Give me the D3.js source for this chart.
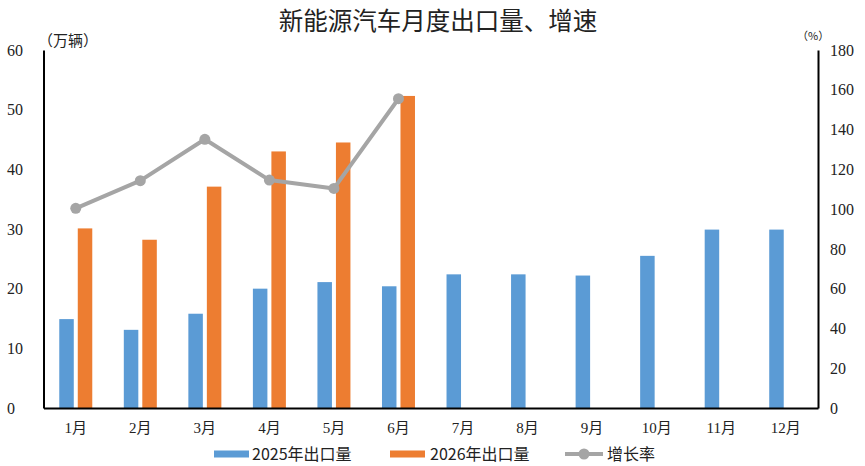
<!DOCTYPE html>
<html>
<head>
<meta charset="utf-8">
<script src="https://cdn.jsdelivr.net/npm/d3@7"></script>
<style>
  html, body { margin: 0; padding: 0; background: #fff; }
  svg { display: block; }
</style>
</head>
<body>
<svg id="chart" width="865" height="466"></svg>
<script>
// chart data
const months = ["1月", "2月", "3月", "4月", "5月", "6月", "7月", "8月", "9月", "10月", "11月", "12月"];
const export2025 = [14.9, 13.1, 15.8, 20.0, 21.1, 20.4, 22.4, 22.4, 22.2, 25.5, 29.9, 29.9];
const export2026 = [30.1, 28.2, 37.1, 43.0, 44.5, 52.3];
const growthRate = [100.4, 114.3, 135.1, 114.6, 110.4, 155.5];
const leftTicks = [0, 10, 20, 30, 40, 50, 60];
const rightTicks = [0, 20, 40, 60, 80, 100, 120, 140, 160, 180];
const seriesNames = ["2025年出口量", "2026年出口量", "增长率"];

const colors = { y2025: "#5B9BD5", y2026: "#ED7D31", rate: "#A5A5A5" };
const serif = "'Liberation Serif', 'Noto Sans CJK SC', serif";
const cjk = "'Noto Sans CJK SC', sans-serif";

const svg = d3.select("#chart");

const plot = { left: 43.5, right: 818, top: 50, bottom: 408 };

const x = d3.scaleBand()
  .domain(months)
  .range([plot.left, plot.right]);

const xSub = d3.scaleBand()
  .domain(["2025", "2026"])
  .range([x.bandwidth() / 2 - 16.5, x.bandwidth() / 2 + 16.5])
  .paddingInner(0.216);

const yLeft = d3.scaleLinear().domain([0, 60]).range([plot.bottom, plot.top]);
const yRight = d3.scaleLinear().domain([0, 180]).range([plot.bottom, plot.top]);

// Title
svg.append("text")
  .attr("x", 438)
  .attr("y", 30)
  .attr("text-anchor", "middle")
  .attr("font-family", cjk)
  .attr("font-size", 24.5)
  .attr("fill", "#222")
  .text("新能源汽车月度出口量、增速");

// Bars
svg.append("g").selectAll("rect")
  .data(export2025)
  .join("rect")
  .attr("x", (d, i) => x(months[i]) + xSub("2025"))
  .attr("y", d => yLeft(d))
  .attr("width", xSub.bandwidth())
  .attr("height", d => yLeft(0) - yLeft(d))
  .attr("fill", colors.y2025);

svg.append("g").selectAll("rect")
  .data(export2026)
  .join("rect")
  .attr("x", (d, i) => x(months[i]) + xSub("2026"))
  .attr("y", d => yLeft(d))
  .attr("width", xSub.bandwidth())
  .attr("height", d => yLeft(0) - yLeft(d))
  .attr("fill", colors.y2026);

// Growth rate line
const line = d3.line()
  .x((d, i) => x(months[i]) + x.bandwidth() / 2)
  .y(d => yRight(d));

svg.append("path")
  .datum(growthRate)
  .attr("fill", "none")
  .attr("stroke", colors.rate)
  .attr("stroke-width", 4)
  .attr("stroke-linejoin", "round")
  .attr("d", line);

svg.append("g").selectAll("circle")
  .data(growthRate)
  .join("circle")
  .attr("cx", (d, i) => x(months[i]) + x.bandwidth() / 2)
  .attr("cy", d => yRight(d))
  .attr("r", 5.5)
  .attr("fill", colors.rate);

// Axes
const leftAxis = svg.append("g")
  .attr("transform", `translate(${plot.left},0)`)
  .call(d3.axisLeft(yLeft).tickValues(leftTicks).tickSize(0).tickPadding(0));
leftAxis.select(".domain").attr("stroke", "#000").attr("stroke-width", 2);
leftAxis.selectAll("text")
  .attr("x", 7 - plot.left)
  .attr("text-anchor", "start")
  .attr("font-family", serif)
  .attr("font-size", 16)
  .attr("fill", "#222");

const rightAxis = svg.append("g")
  .attr("transform", `translate(${plot.right},0)`)
  .call(d3.axisRight(yRight).tickValues(rightTicks).tickSize(0).tickPadding(12));
rightAxis.select(".domain").attr("stroke", "#000").attr("stroke-width", 2);
rightAxis.selectAll("text")
  .attr("font-family", serif)
  .attr("font-size", 16)
  .attr("fill", "#222");

const bottomAxis = svg.append("g")
  .attr("transform", `translate(0,${plot.bottom})`)
  .call(d3.axisBottom(x).tickSize(0).tickPadding(14));
bottomAxis.select(".domain").attr("stroke", "#000").attr("stroke-width", 2);
bottomAxis.selectAll("text")
  .attr("font-family", serif)
  .attr("font-size", 15)
  .attr("fill", "#222");

// Unit labels
svg.append("text")
  .attr("x", 38)
  .attr("y", 46)
  .attr("font-family", cjk)
  .attr("font-size", 15)
  .attr("fill", "#222")
  .text("（万辆）");

svg.append("text")
  .attr("x", 797)
  .attr("y", 40)
  .attr("font-family", cjk)
  .attr("font-size", 11)
  .attr("fill", "#222")
  .text("（%）");

// Legend
const legend = svg.append("g").attr("font-family", cjk).attr("font-size", 16).attr("fill", "#222");
const legendY = 454;

legend.append("rect").attr("x", 214).attr("y", legendY - 3.5).attr("width", 35).attr("height", 7).attr("fill", colors.y2025);
legend.append("text").attr("x", 252).attr("y", legendY).attr("dy", "0.35em").text(seriesNames[0]);

legend.append("rect").attr("x", 390).attr("y", legendY - 3.5).attr("width", 35).attr("height", 7).attr("fill", colors.y2026);
legend.append("text").attr("x", 430).attr("y", legendY).attr("dy", "0.35em").text(seriesNames[1]);

legend.append("line").attr("x1", 565).attr("x2", 603).attr("y1", legendY).attr("y2", legendY)
  .attr("stroke", colors.rate).attr("stroke-width", 4);
legend.append("circle").attr("cx", 584).attr("cy", legendY).attr("r", 5.5).attr("fill", colors.rate);
legend.append("text").attr("x", 607).attr("y", legendY).attr("dy", "0.35em").text(seriesNames[2]);
</script>
</body>
</html>
